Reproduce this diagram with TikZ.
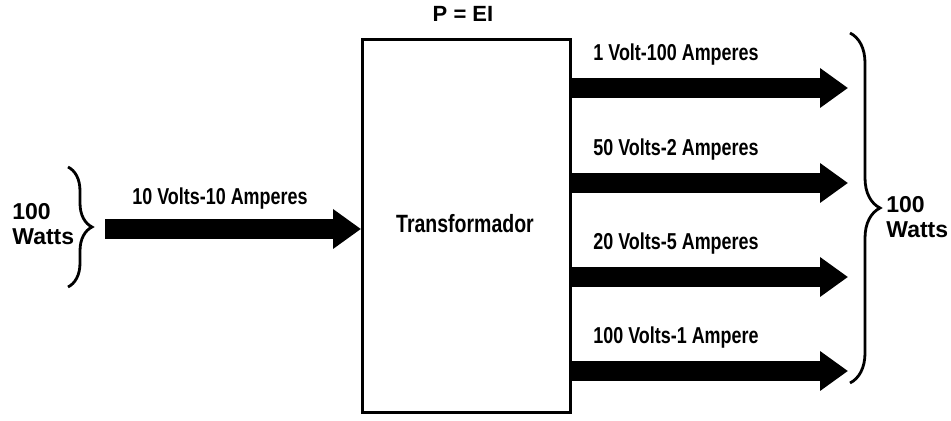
\documentclass[tikz,border=0pt]{standalone}
\usepackage{fontspec}
\setmainfont{Liberation Sans}
\newfontfamily\condfont[FakeStretch=0.78]{Liberation Sans}
\usetikzlibrary{arrows.meta,decorations.pathreplacing}
\begin{document}
\begin{tikzpicture}[x=0.5pt,y=-0.5pt,
  bigarrow/.style={line width=10pt,-{Triangle[length=14pt,width=19pt]}},
  lbl/.style={font=\condfont\bfseries\fontsize{11.5}{13}\selectfont,inner sep=0pt},
  wlbl/.style={font=\bfseries\fontsize{11.5}{12.5}\selectfont,align=left,inner sep=0pt},
  bracestyle/.style={line width=1.4pt,decorate,decoration={brace,amplitude=#1}}]
\useasboundingbox (0,0) rectangle (951,421);
% transformer box
\node[draw,line width=1.5pt,minimum width=104pt,minimum height=186.5pt,inner sep=0pt,
  anchor=north west] (tr) at (361,38) {};
\node[lbl,font=\condfont\bfseries\fontsize{12.5}{14}\selectfont,anchor=base] (trl) at (465,233) {Transformador};
\node[font=\bfseries\fontsize{11}{13}\selectfont,inner sep=0pt,anchor=base] (pei) at (463,22) {P = EI};
% input arrow
\coordinate (in0) at (105,229);
\coordinate (in1) at (tr.west |- in0);
\draw[bigarrow] (in0) -- (in1);
\node[lbl,anchor=base] (inl) at (220,205) {10 Volts-10 Amperes};
% left brace
\coordinate (lb0) at (68,167);
\coordinate (lb1) at (68,287);
\draw[bracestyle=12pt] (lb0) -- (lb1);
\node[wlbl,anchor=base west] (lw) at (12,245) {100\\Watts};
% output arrows
\foreach \y/\t [count=\i] in {88/{1 Volt-100 Amperes},183/{50 Volts-2 Amperes},277/{20 Volts-5 Amperes},371/{100 Volts-1 Ampere}}{
  \coordinate (o\i a) at (569,\y);
  \coordinate (o\i b) at (848,\y);
  \draw[bigarrow] (o\i a) -- (o\i b);
  \node[lbl,anchor=base west] (ol\i) at (593,\y-27) {\t};
}
% right brace
\coordinate (rb0) at (850,33);
\coordinate (rb1) at (850,383);
\draw[bracestyle=15pt] (rb0) -- (rb1);
\node[wlbl,anchor=base west] (rw) at (886,238) {100\\Watts};
\end{tikzpicture}
\end{document}
